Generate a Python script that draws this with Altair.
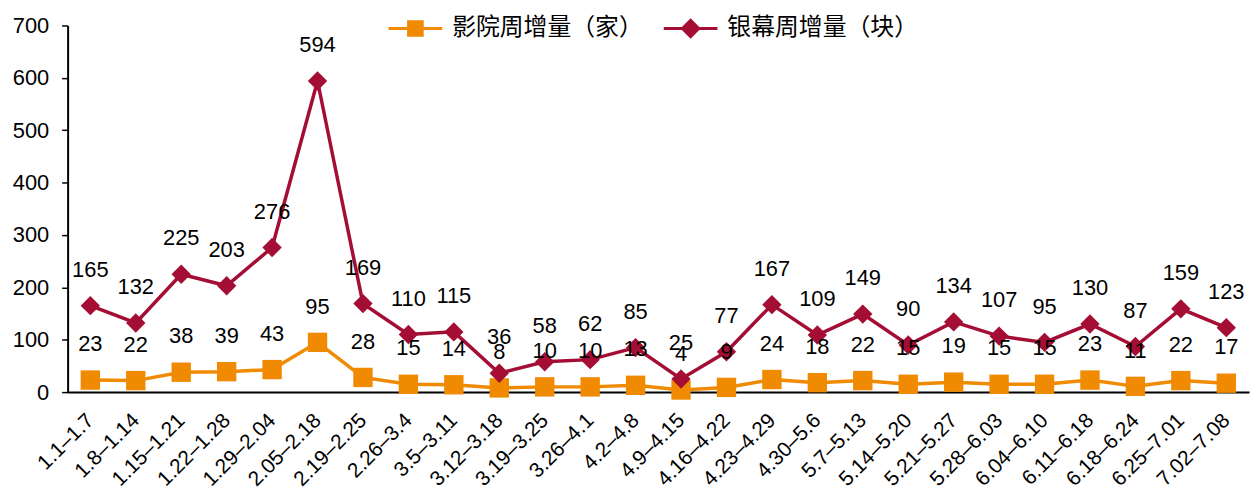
import altair as alt
import pandas as pd

periods = ["1.1–1.7", "1.8–1.14", "1.15–1.21", "1.22–1.28", "1.29–2.04", "2.05–2.18",
           "2.19–2.25", "2.26–3.4", "3.5–3.11", "3.12–3.18", "3.19–3.25", "3.26–4.1",
           "4.2–4.8", "4.9–4.15", "4.16–4.22", "4.23–4.29", "4.30–5.6", "5.7–5.13",
           "5.14–5.20", "5.21–5.27", "5.28–6.03", "6.04–6.10", "6.11–6.18", "6.18–6.24",
           "6.25–7.01", "7.02–7.08"]
cinemas = [23, 22, 38, 39, 43, 95, 28, 15, 14, 8, 10, 10, 13, 4, 9, 24, 18, 22, 15, 19,
           15, 15, 23, 11, 22, 17]
screens = [165, 132, 225, 203, 276, 594, 169, 110, 115, 36, 58, 62, 85, 25, 77, 167, 109,
           149, 90, 134, 107, 95, 130, 87, 159, 123]
series_names = ["影院周增量（家）", "银幕周增量（块）"]
colors = ["#F08A00", "#A50E34"]
shapes = ["square", "diamond"]
legend_paths = [
    "M-1,-0.056L1,-0.056L1,0.056L-1,0.056Z M-0.31,-0.31L0.31,-0.31L0.31,0.31L-0.31,0.31Z",
    "M-1,-0.056L1,-0.056L1,0.056L-1,0.056Z M0,-0.38L0.38,0L0,0.38L-0.38,0Z",
]

rows = []
for s, vals in zip(series_names, [cinemas, screens]):
    for p, v in zip(periods, vals):
        rows.append({"period": p, "series": s, "value": v})
df = pd.DataFrame(rows)

FONT = "Liberation Sans"

x_enc = alt.X("period:N", sort=periods,
              scale=alt.Scale(type="point", padding=0.5),
              axis=alt.Axis(title=None, labelAngle=-45, labelAlign="right",
                            labelBaseline="middle", labelPadding=25, ticks=False,
                            labelFont=FONT, labelFontSize=21, labelColor="black",
                            domainColor="black", domainWidth=2, grid=False,
                            labelOverlap=False))
y_enc = alt.Y("value:Q", scale=alt.Scale(domain=[0, 700], nice=False),
              axis=alt.Axis(title=None, values=list(range(0, 701, 100)), grid=False,
                            tickSize=6, tickColor="black", tickWidth=1.5,
                            domainColor="black", domainWidth=2,
                            labelFont=FONT, labelFontSize=22, labelColor="black",
                            labelPadding=13))

color_scale = alt.Scale(domain=series_names, range=colors)

base = alt.Chart(df)

lines = base.mark_line(strokeWidth=3.5).encode(
    x=x_enc, y=y_enc,
    color=alt.Color("series:N", scale=color_scale, legend=None),
)

points = base.mark_point(filled=True, opacity=1, size=380, strokeWidth=1,
                         strokeJoin="round").encode(
    x=x_enc, y=y_enc,
    color=alt.Color("series:N", scale=color_scale, legend=None),
    shape=alt.Shape("series:N", scale=alt.Scale(domain=series_names, range=shapes), legend=None),
)

labels = base.mark_text(dy=-36, fontSize=22, font=FONT, color="black").encode(
    x=x_enc, y=y_enc, text="value:Q",
)

leg = alt.Legend(title=None, orient="none", legendX=323, legendY=-24,
                 direction="horizontal", symbolSize=2916, symbolStrokeWidth=0,
                 labelFont="Noto Sans CJK SC", labelFontSize=24, labelColor="black",
                 labelOffset=10, columnPadding=21, symbolOpacity=1, labelLimit=0)

legend_layer = base.mark_point(filled=True, opacity=1).encode(
    x=x_enc, y=y_enc,
    color=alt.Color("series:N", scale=color_scale, legend=leg),
    shape=alt.Shape("series:N", scale=alt.Scale(domain=series_names, range=legend_paths), legend=leg),
).transform_filter("false")

chart = alt.layer(lines, points, labels, legend_layer).resolve_scale(
    color="independent", shape="independent"
).properties(
    width=1189, height=369,
    autosize=alt.AutoSizeParams(type="none"),
    padding={"left": 60, "top": 16, "right": 1, "bottom": 107},
).configure_view(stroke=None)

chart.save("out.html", embed_options={"renderer": "svg", "actions": False})
